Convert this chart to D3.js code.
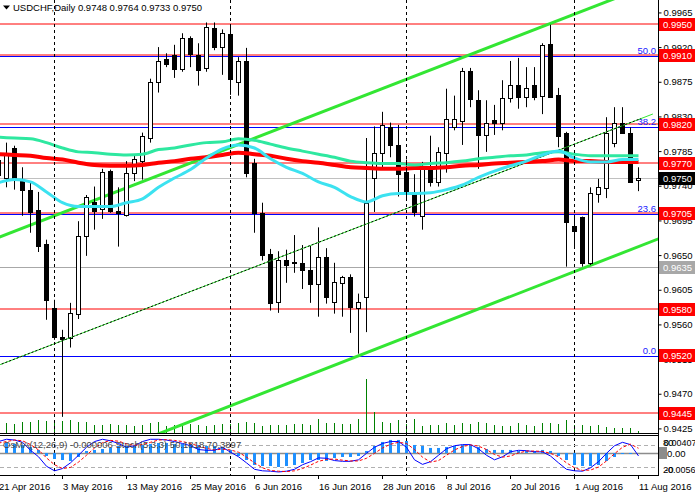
<!DOCTYPE html>
<html>
<head>
<meta charset="utf-8">
<script src="https://cdn.jsdelivr.net/npm/d3@7"></script>
<style>
body { margin: 0; background: #fff; }
text { font-family: "Liberation Sans", Arial, sans-serif; font-size: 9.5px; }
</style>
</head>
<body>
<div id="chart"></div>
<script>
// ---- data (bar index -1 = 21 Apr 2016 ... 79 = 11 Aug 2016) ----
const symbol = "USDCHF,Daily";
const lastQuote = [0.9748, 0.9764, 0.9733, 0.9750];
const firstBar = -1;

const opens = [0.9774,
  0.9750, 0.9789, 0.9749, 0.9735, 0.9709, 0.9665, 0.9581, 0.9544, 0.9543, 0.9574,
  0.9675, 0.9719, 0.9710, 0.9759, 0.9707, 0.9701, 0.9757, 0.9772, 0.9802, 0.9875,
  0.9905, 0.9910, 0.9892, 0.9932, 0.9910, 0.9893, 0.9945, 0.9920, 0.9937, 0.9875,
  0.9902, 0.9769, 0.9705, 0.9652, 0.9589, 0.9644, 0.9641, 0.9640, 0.9631, 0.9613,
  0.9648, 0.9589, 0.9613, 0.9622, 0.9581, 0.9596, 0.9751, 0.9783, 0.9816, 0.9793,
  0.9758, 0.9731, 0.9700, 0.9764, 0.9745, 0.9783, 0.9816, 0.9824, 0.9889, 0.9851,
  0.9807, 0.9825, 0.9822, 0.9854, 0.9871, 0.9855, 0.9871, 0.9857, 0.9924, 0.9858,
  0.9809, 0.9688, 0.9700, 0.9640, 0.9730, 0.9738, 0.9796, 0.9822, 0.9809, 0.9748];
const highs = [0.9789,
  0.9796, 0.9792, 0.9764, 0.9745, 0.9732, 0.9670, 0.9592, 0.9553, 0.9588, 0.9694,
  0.9728, 0.9739, 0.9762, 0.9761, 0.9738, 0.9772, 0.9780, 0.9809, 0.9879, 0.9920,
  0.9912, 0.9923, 0.9938, 0.9934, 0.9925, 0.9952, 0.9952, 0.9943, 0.9949, 0.9907,
  0.9919, 0.9775, 0.9718, 0.9658, 0.9655, 0.9657, 0.9676, 0.9663, 0.9662, 0.9686,
  0.9659, 0.9640, 0.9623, 0.9625, 0.9600, 0.9802, 0.9817, 0.9836, 0.9822, 0.9819,
  0.9774, 0.9755, 0.9771, 0.9805, 0.9790, 0.9866, 0.9857, 0.9893, 0.9893, 0.9864,
  0.9851, 0.9845, 0.9877, 0.9902, 0.9906, 0.9894, 0.9894, 0.9925, 0.9949, 0.9867,
  0.9810, 0.9702, 0.9700, 0.9738, 0.9749, 0.9829, 0.9842, 0.9842, 0.9816, 0.9764];
const lows = [0.9722,
  0.9738, 0.9735, 0.9701, 0.9679, 0.9654, 0.9566, 0.9540, 0.9440, 0.9530, 0.9567,
  0.9649, 0.9683, 0.9697, 0.9705, 0.9661, 0.9700, 0.9746, 0.9748, 0.9796, 0.9861,
  0.9894, 0.9880, 0.9888, 0.9894, 0.9870, 0.9888, 0.9916, 0.9884, 0.9858, 0.9857,
  0.9751, 0.9679, 0.9643, 0.9578, 0.9575, 0.9614, 0.9627, 0.9606, 0.9588, 0.9570,
  0.9587, 0.9574, 0.9570, 0.9549, 0.9522, 0.9550, 0.9706, 0.9764, 0.9777, 0.9726,
  0.9722, 0.9700, 0.9683, 0.9739, 0.9739, 0.9757, 0.9812, 0.9793, 0.9842, 0.9762,
  0.9784, 0.9806, 0.9812, 0.9848, 0.9840, 0.9842, 0.9851, 0.9833, 0.9855, 0.9790,
  0.9635, 0.9659, 0.9635, 0.9637, 0.9718, 0.9724, 0.9790, 0.9809, 0.9744, 0.9733];
const closes = [0.9755,
  0.9783, 0.9750, 0.9735, 0.9707, 0.9662, 0.9592, 0.9543, 0.9541, 0.9575, 0.9675,
  0.9726, 0.9707, 0.9758, 0.9707, 0.9704, 0.9756, 0.9775, 0.9805, 0.9875, 0.9902,
  0.9899, 0.9892, 0.9932, 0.9911, 0.9890, 0.9946, 0.9920, 0.9938, 0.9879, 0.9902,
  0.9756, 0.9704, 0.9651, 0.9589, 0.9644, 0.9637, 0.9640, 0.9631, 0.9613, 0.9648,
  0.9596, 0.9615, 0.9621, 0.9583, 0.9589, 0.9718, 0.9783, 0.9819, 0.9793, 0.9756,
  0.9731, 0.9706, 0.9764, 0.9744, 0.9784, 0.9827, 0.9827, 0.9889, 0.9853, 0.9806,
  0.9822, 0.9821, 0.9854, 0.9871, 0.9855, 0.9867, 0.9855, 0.9923, 0.9855, 0.9805,
  0.9693, 0.9682, 0.9640, 0.9731, 0.9739, 0.9809, 0.9822, 0.9809, 0.9746, 0.9750];
const volumes = [10000,
  10000, 9000, 11000, 11000, 13000, 12000, 13000, 12000, 13000, 11000,
  11000, 8000, 8000, 9000, 8000, 8000, 7000, 8000, 10000, 11000,
  7000, 8000, 9000, 9000, 8000, 7000, 8000, 9000, 9000, 10000,
  11000, 10000, 7000, 8000, 8000, 8000, 9000, 9000, 8000, 14000,
  10000, 10000, 9000, 9000, 14000, 54000, 21000, 11000, 10000, 13000,
  9000, 14000, 7000, 8000, 8000, 10000, 8000, 10000, 9000, 11000,
  10000, 8000, 7000, 7000, 10000, 8000, 7000, 10000, 10000, 9000,
  13000, 8000, 8000, 7000, 8000, 6000, 5000, 5000, 5000, 2000];

// moving averages read every second bar
const maIdx = [-1, 1, 3, 5, 7, 9, 11, 13, 15, 17, 19, 21, 23, 25, 27, 29, 31, 33, 35, 37,
  39, 41, 43, 45, 47, 49, 51, 53, 55, 57, 59, 61, 63, 65, 67, 69, 71, 73, 75, 77, 79];
const maSlow = [0.9781, 0.9780, 0.9779, 0.9776, 0.9774, 0.9770, 0.9767, 0.9766, 0.9766, 0.9767,
  0.9770, 0.9772, 0.9775, 0.9777, 0.9780, 0.9783, 0.9781, 0.9779, 0.9775, 0.9772,
  0.9770, 0.9767, 0.9764, 0.9763, 0.9762, 0.9762, 0.9763, 0.9763, 0.9764, 0.9766,
  0.9767, 0.9769, 0.9770, 0.9771, 0.9772, 0.9774, 0.9772, 0.9772, 0.9771, 0.9771, 0.9771];
const maMid = [0.9803, 0.9802, 0.9801, 0.9796, 0.9789, 0.9784, 0.9783, 0.9781, 0.9780, 0.9781,
  0.9787, 0.9789, 0.9793, 0.9796, 0.9797, 0.9801, 0.9799, 0.9794, 0.9789, 0.9785,
  0.9781, 0.9777, 0.9772, 0.9770, 0.9769, 0.9769, 0.9767, 0.9769, 0.9770, 0.9772,
  0.9775, 0.9777, 0.9779, 0.9780, 0.9783, 0.9784, 0.9781, 0.9779, 0.9779, 0.9779, 0.9779];
const maFast = [0.9744, 0.9748, 0.9745, 0.9732, 0.9718, 0.9713, 0.9713, 0.9713, 0.9718, 0.9723,
  0.9738, 0.9750, 0.9761, 0.9776, 0.9788, 0.9793, 0.9789, 0.9775, 0.9764, 0.9756,
  0.9745, 0.9738, 0.9726, 0.9719, 0.9727, 0.9730, 0.9730, 0.9731, 0.9735, 0.9741,
  0.9751, 0.9759, 0.9766, 0.9772, 0.9780, 0.9785, 0.9776, 0.9771, 0.9771, 0.9774, 0.9774];

// OsMA(12,26,9) and Stoch(5,3,3)
const osma = [0.00268,
  0.00255, 0.0023, 0.00204, 0.00153, 0.00077, -0.00077, -0.00153, -0.00179, -0.00204, -0.00102,
  0.00051, 0.00077, 0.00102, 0.00128, 0.00179, 0.00179, 0.00179, 0.00204, 0.0023, 0.00255,
  0.00255, 0.0023, 0.0023, 0.0023, 0.00204, 0.00179, 0.00179, 0.00153, 0.00077, -0.00077,
  -0.00179, -0.00306, -0.00332, -0.00332, -0.00357, -0.00332, -0.00306, -0.00255, -0.00179, -0.00179,
  -0.00204, -0.00128, -0.00102, -0.00102, -0.00077, 0.00051, 0.00179, 0.00281, 0.00332, 0.00332,
  0.00306, 0.00204, 0.00179, 0.00128, 0.00128, 0.00153, 0.00179, 0.00204, 0.00204, 0.00153,
  0.00102, 0.00077, 0.00077, 0.00077, 0.00051, 0.00051, 0.00051, 0.00077, 0.00051, -0.00077,
  -0.00179, -0.00306, -0.00332, -0.00332, -0.00306, -0.00204, -0.00102, -0.00026, -0.00026, -0.000006];
const stochMain = [88,
  94, 92, 86, 65, 48, 23, 11, 17, 32, 52,
  73, 88, 94, 90, 83, 73, 77, 88, 94, 94,
  92, 88, 83, 77, 67, 65, 65, 73, 60, 48,
  32, 15, 11, 10, 8, 10, 15, 27, 35, 45,
  44, 38, 36, 36, 40, 57, 73, 83, 88, 88,
  73, 40, 28, 35, 52, 69, 77, 80, 80, 69,
  52, 40, 48, 61, 65, 64, 61, 61, 50, 32,
  15, 11, 10, 19, 35, 57, 77, 86, 80, 50.1818];
const stochSignal = [84,
  88, 92, 90, 80, 66, 45, 27, 17, 20, 34,
  52, 71, 85, 91, 89, 82, 78, 80, 86, 92,
  93, 91, 88, 83, 76, 70, 66, 68, 66, 60,
  47, 32, 19, 12, 10, 9, 11, 17, 26, 36,
  41, 42, 39, 37, 37, 44, 57, 71, 81, 86,
  83, 67, 47, 34, 38, 52, 66, 75, 79, 76,
  67, 54, 47, 50, 58, 63, 63, 62, 57, 48,
  32, 19, 12, 13, 21, 37, 56, 73, 81, 70.3897];

const dateLabels = ["21 Apr 2016", "3 May 2016", "13 May 2016", "25 May 2016", "6 Jun 2016",
  "16 Jun 2016", "28 Jun 2016", "8 Jul 2016", "20 Jul 2016", "1 Aug 2016", "11 Aug 2016"];
const dateLabelIdx = [-1, 7, 15, 23, 31, 39, 47, 55, 63, 71, 79];
const monthStartIdx = [6, 28, 50, 71];

const priceTicks = [0.9965, 0.9920, 0.9875, 0.9830, 0.9785, 0.9740, 0.9695, 0.9650,
  0.9605, 0.9560, 0.9515, 0.9470, 0.9425];
const redLevels = [0.9950, 0.9910, 0.9820, 0.9770, 0.9705, 0.9580, 0.9445];
const redTags = [0.9950, 0.9910, 0.9820, 0.9770, 0.9705, 0.9580, 0.9520, 0.9445];
const grayLevel = 0.9635;
const fibLow = 0.9520, fibHigh = 1.0300;
const fibRatios = [0.0, 23.6, 38.2, 50.0];
const channelUpper = [[0, 0.9677], [79, 0.9995]];
const channelLower = [[0, 0.9341], [79, 0.9661]];
const trendMid = [[0, 0.9511], [79, 0.9826]];

// ---- layout ----
const W = 695, H = 498;
const plotR = 658, mainBot = 433, subTop = 437, subBot = 475;

const svg = d3.select("#chart").append("svg")
  .attr("width", W).attr("height", H)
  .style("display", "block");

const x = d3.scaleLinear().domain([0, 79]).range([6.5, 638.5]);
const y = d3.scaleLinear().domain([0.9445, 0.9950]).range([413, 24]);
const yVol = d3.scaleLinear().domain([0, 60000]).range([mainBot, mainBot - 60]);
const yOsma = d3.scaleLinear().domain([-0.00561, 0.00407]).range([subBot, subTop]);
const yStoch = d3.scaleLinear().domain([0, 100]).range([subBot, subTop]);
const py = p => Math.round(y(p)) + 0.5;
const fibPrice = r => fibLow + (fibHigh - fibLow) * r / 100;
const bars = d3.range(opens.length).map(i => ({
  k: i + firstBar, o: opens[i], h: highs[i], l: lows[i], c: closes[i],
  v: volumes[i], osma: osma[i], sm: stochMain[i], ss: stochSignal[i]
}));

const defs = svg.append("defs");
defs.append("clipPath").attr("id", "clipMain")
  .append("rect").attr("x", 0).attr("y", 0).attr("width", plotR).attr("height", mainBot);
defs.append("clipPath").attr("id", "clipSub")
  .append("rect").attr("x", 0).attr("y", subTop - 1).attr("width", plotR).attr("height", subBot - subTop + 1);

const main = svg.append("g").attr("clip-path", "url(#clipMain)");

// horizontal levels
main.append("line").attr("x1", 0).attr("x2", plotR)
  .attr("y1", py(lastQuote[3])).attr("y2", py(lastQuote[3]))
  .attr("stroke", "#c0c0c0");
main.append("line").attr("x1", 0).attr("x2", plotR)
  .attr("y1", py(grayLevel)).attr("y2", py(grayLevel))
  .attr("stroke", "#a8a8a8");
main.selectAll(".fib").data(fibRatios).enter().append("line")
  .attr("x1", 0).attr("x2", plotR)
  .attr("y1", d => py(fibPrice(d)) + 1)
  .attr("y2", d => py(fibPrice(d)) + 1)
  .attr("stroke", "#0000ff");
main.selectAll(".red-level").data(redLevels).enter().append("line")
  .attr("x1", 0).attr("x2", plotR)
  .attr("y1", d => py(d) - 0.5).attr("y2", d => py(d) - 0.5)
  .attr("stroke", "#ff0000");
main.selectAll(".fib-label").data(fibRatios).enter().append("text")
  .attr("x", 656).attr("y", d => py(fibPrice(d)) - 2)
  .attr("text-anchor", "end").attr("fill", "#2020ff")
  .text(d => d.toFixed(1));

// month separators
svg.selectAll(".sep").data(monthStartIdx).enter().append("line")
  .attr("x1", d => x(d)).attr("x2", d => x(d))
  .attr("y1", 0).attr("y2", subBot)
  .attr("stroke", "#000").attr("stroke-dasharray", "3,3");

// volumes
main.selectAll(".vol").data(bars).enter().append("line")
  .attr("x1", d => x(d.k)).attr("x2", d => x(d.k))
  .attr("y1", mainBot).attr("y2", d => yVol(d.v))
  .attr("stroke", "#008000");

// trend channel
function trend(pts, k0, k1) {
  const s = (pts[1][1] - pts[0][1]) / (pts[1][0] - pts[0][0]);
  const f = k => pts[0][1] + s * (k - pts[0][0]);
  return [[x(k0), y(f(k0))], [x(k1), y(f(k1))]];
}
const lineGen = d3.line();
main.append("path").attr("d", lineGen(trend(channelUpper, -2, 84)))
  .attr("stroke", "#33e633").attr("stroke-width", 3).attr("fill", "none");
main.append("path").attr("d", lineGen(trend(channelLower, -2, 84)))
  .attr("stroke", "#33e633").attr("stroke-width", 3).attr("fill", "none");

// candles
const candle = main.selectAll(".bar").data(bars).enter().append("g");
candle.append("line")
  .attr("x1", d => x(d.k)).attr("x2", d => x(d.k))
  .attr("y1", d => y(d.h)).attr("y2", d => y(d.l))
  .attr("stroke", "#000");
candle.append("rect")
  .attr("x", d => x(d.k) - 2).attr("width", 4)
  .attr("y", d => Math.round(y(Math.max(d.o, d.c))) + 0.5)
  .attr("height", d => Math.max(1, Math.round(Math.abs(y(d.o) - y(d.c)))))
  .attr("fill", d => d.c >= d.o ? "#fff" : "#000")
  .attr("stroke", "#000");

// middle trend line (green with black dots)
main.append("path").attr("d", lineGen(trend(trendMid, -2, 80.8)))
  .attr("stroke", "#33e633").attr("fill", "none");
main.append("path").attr("d", lineGen(trend(trendMid, -2, 79.3)))
  .attr("stroke", "#000").attr("stroke-dasharray", "2,2").attr("fill", "none");

// moving averages
const maLine = d3.line().x(d => x(d[0])).y(d => y(d[1])).curve(d3.curveMonotoneX);
[[maSlow, "#ff0000", 4], [maMid, "#2ee8a0", 3], [maFast, "#3ce2f0", 3]].forEach(([arr, col, w]) => {
  main.append("path")
    .attr("d", maLine(maIdx.map((k, i) => [k, arr[i]])))
    .attr("stroke", col).attr("stroke-width", w).attr("fill", "none");
});

// ---- sub window ----
svg.append("line").attr("x1", 0).attr("x2", plotR).attr("y1", mainBot + 0.5).attr("y2", mainBot + 0.5).attr("stroke", "#000");
svg.append("line").attr("x1", 0).attr("x2", plotR).attr("y1", mainBot + 2.5).attr("y2", mainBot + 2.5).attr("stroke", "#000");
svg.append("line").attr("x1", 0).attr("x2", plotR).attr("y1", subBot + 0.5).attr("y2", subBot + 0.5).attr("stroke", "#000");

const sub = svg.append("g").attr("clip-path", "url(#clipSub)");
sub.selectAll(".lvl").data([80, 20]).enter().append("line")
  .attr("x1", 0).attr("x2", plotR)
  .attr("y1", d => Math.round(yStoch(d)) + 0.5).attr("y2", d => Math.round(yStoch(d)) + 0.5)
  .attr("stroke", "#b0b0b0").attr("stroke-dasharray", "4,3");
sub.append("line").attr("x1", 0).attr("x2", plotR)
  .attr("y1", Math.round(yOsma(0)) + 0.5).attr("y2", Math.round(yOsma(0)) + 0.5)
  .attr("stroke", "#8c8c8c").attr("stroke-width", 1.5);
sub.selectAll(".hist").data(bars).enter().append("rect")
  .attr("x", d => x(d.k) - 1.5).attr("width", 3)
  .attr("y", d => Math.min(yOsma(0), yOsma(d.osma)))
  .attr("height", d => Math.abs(yOsma(d.osma) - yOsma(0)))
  .attr("fill", "#1e90ff");
sub.append("path")
  .attr("d", d3.line().x(d => x(d.k)).y(d => yStoch(d.sm))(bars))
  .attr("stroke", "#0000ff").attr("fill", "none");
sub.append("path")
  .attr("d", d3.line().x(d => x(d.k)).y(d => yStoch(d.ss))(bars))
  .attr("stroke", "#ff0000").attr("stroke-dasharray", "3,2").attr("fill", "none");
svg.append("text").attr("x", 3).attr("y", 448).attr("fill", "#444")
  .text("OsMA(12,26,9) -0.000006 Stoch(5,3,3) " + stochMain[stochMain.length - 1].toFixed(4) + " " + stochSignal[stochSignal.length - 1].toFixed(4));

// ---- right price axis ----
svg.append("line").attr("x1", plotR + 0.5).attr("x2", plotR + 0.5)
  .attr("y1", 0).attr("y2", subBot + 1).attr("stroke", "#000");
const yAxis = svg.append("g")
  .attr("transform", `translate(${plotR + 0.5},0)`)
  .call(d3.axisRight(y).tickValues(priceTicks).tickFormat(d3.format(".4f"))
    .tickSize(3).tickPadding(2).tickSizeOuter(0));
yAxis.select(".domain").remove();
yAxis.selectAll("text").attr("fill", "#000").style("font-size", "9.5px")
  .style("font-family", "'Liberation Sans', Arial, sans-serif");

function tag(p, bg, fg) {
  const g = svg.append("g");
  g.append("rect").attr("x", 659).attr("y", Math.round(y(p)) - 6).attr("width", 36).attr("height", 13).attr("fill", bg);
  g.append("text").attr("x", 663).attr("y", Math.round(y(p)) + 4).attr("fill", fg).text(p.toFixed(4));
}
redTags.forEach(p => tag(p, "#ff0000", "#fff"));
tag(lastQuote[3], "#000", "#fff");
tag(grayLevel, "#a8a8a8", "#fff");

// sub window scale labels (overlapping as in the terminal)
svg.append("text").attr("x", 663).attr("y", 446).attr("fill", "#000").text("80");
svg.append("text").attr("x", 664).attr("y", 446).attr("fill", "#000").style("font-size", "9px").text("0.00407");
svg.append("rect").attr("x", 659).attr("y", Math.round(yOsma(0)) - 6).attr("width", 8).attr("height", 12).attr("fill", "#8c8c8c");
svg.append("text").attr("x", 667).attr("y", Math.round(yOsma(0)) + 4).attr("fill", "#000").text("0.00");
svg.append("text").attr("x", 663).attr("y", 473).attr("fill", "#000").text("20");
svg.append("text").attr("x", 665).attr("y", 473).attr("fill", "#000").style("font-size", "9px").text("-0.00561");

// ---- date axis ----
svg.selectAll(".dtick").data(dateLabelIdx).enter().append("line")
  .attr("x1", d => x(d)).attr("x2", d => x(d))
  .attr("y1", subBot).attr("y2", subBot + 4).attr("stroke", "#000");
svg.selectAll(".dlabel").data(dateLabels).enter().append("text")
  .attr("x", (d, i) => x(dateLabelIdx[i]) + 0.5).attr("y", 490)
  .attr("fill", "#000").text(d => d);

// ---- header ----
svg.append("path").attr("d", "M3,5.5 L10,5.5 L6.5,9.5 Z").attr("fill", "#000");
svg.append("text").attr("x", 13).attr("y", 11).attr("fill", "#000")
  .text(symbol + "  " + lastQuote.map(v => v.toFixed(4)).join(" "));
</script>
</body>
</html>
